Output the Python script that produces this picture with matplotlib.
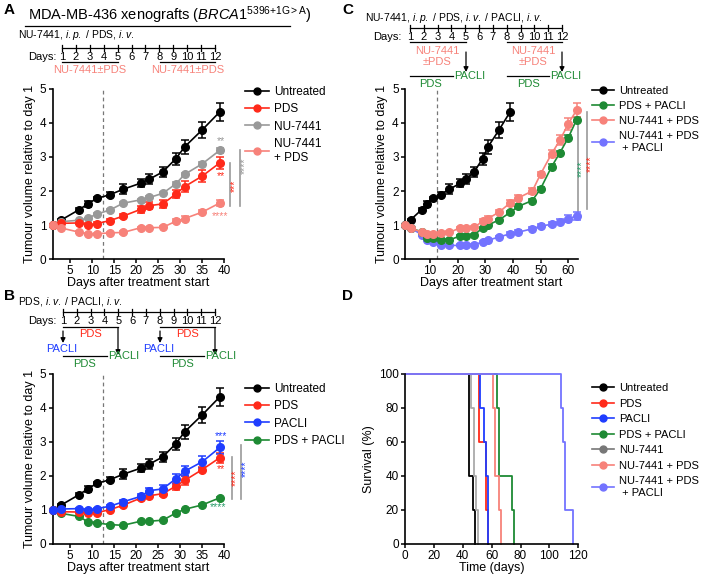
import matplotlib
matplotlib.use('Agg')
import matplotlib.pyplot as plt
from matplotlib.lines import Line2D

plt.rcParams['font.family'] = ['Liberation Sans', 'DejaVu Sans']
plt.rcParams['mathtext.fontset'] = 'custom'
plt.rcParams['mathtext.rm'] = 'Liberation Sans'
plt.rcParams['mathtext.it'] = 'Liberation Sans:italic'
plt.rcParams['font.size'] = 8

# --- colours ---
C_UNT = '#000000'
C_PDS = '#ff2a1a'
C_NU = '#999999'
C_NUPDS = '#f7827a'
C_PACLI = '#1f3dff'
C_PP = '#1e8a34'
C_TRIPLE = '#7373ff'
C_STAR_G = '#2a9d6a'

# --- data: tumour growth (panels A, B, C) ---
days = [1, 3, 7, 9, 11, 14, 17, 21, 23, 26, 29, 31, 35, 39]
days_long = days + [42, 47, 50, 54, 57, 60, 63]

untreated = [1.0, 1.15, 1.45, 1.62, 1.78, 1.89, 2.05, 2.23, 2.35, 2.56, 2.95, 3.3, 3.8, 4.33]
untreated_err = [0, 0.03, 0.04, 0.08, 0.04, 0.07, 0.15, 0.12, 0.14, 0.15, 0.18, 0.2, 0.23, 0.27]

a_pds = [1.0, 1.05, 1.06, 1.01, 1.04, 1.13, 1.26, 1.46, 1.57, 1.62, 1.91, 2.13, 2.44, 2.83]
a_pds_err = [0, 0.04, 0.04, 0.04, 0.04, 0.04, 0.05, 0.1, 0.1, 0.12, 0.13, 0.15, 0.18, 0.18]
a_nu = [1.0, 1.1, 1.14, 1.2, 1.32, 1.44, 1.64, 1.74, 1.81, 1.93, 2.21, 2.49, 2.8, 3.2]
a_nu_err = [0, 0.02, 0.02, 0.02, 0.02, 0.02, 0.03, 0.03, 0.03, 0.03, 0.06, 0.04, 0.04, 0.07]
a_nupds = [1.0, 0.91, 0.79, 0.73, 0.74, 0.77, 0.78, 0.92, 0.92, 0.93, 1.11, 1.19, 1.38, 1.65]
a_nupds_err = [0, 0.03, 0.03, 0.03, 0.03, 0.03, 0.03, 0.03, 0.03, 0.03, 0.06, 0.07, 0.07, 0.08]

b_pds = [1.0, 0.95, 0.94, 0.91, 0.92, 1.01, 1.14, 1.35, 1.42, 1.48, 1.7, 1.87, 2.19, 2.54]
b_pds_err = [0, 0.03, 0.03, 0.03, 0.03, 0.03, 0.05, 0.07, 0.08, 0.08, 0.1, 0.12, 0.08, 0.15]
b_pacli = [1.0, 1.03, 1.04, 1.01, 1.04, 1.11, 1.24, 1.4, 1.57, 1.62, 1.92, 2.14, 2.42, 2.84]
b_pacli_err = [0, 0.03, 0.03, 0.03, 0.03, 0.03, 0.05, 0.08, 0.08, 0.12, 0.15, 0.15, 0.18, 0.18]
b_pp = [1.0, 0.9, 0.81, 0.65, 0.62, 0.57, 0.55, 0.67, 0.67, 0.7, 0.91, 1.02, 1.15, 1.36]
b_pp_err = [0, 0.02, 0.02, 0.02, 0.02, 0.02, 0.02, 0.02, 0.02, 0.02, 0.02, 0.02, 0.02, 0.03]

c_pp = [1.0, 0.91, 0.8, 0.62, 0.62, 0.57, 0.56, 0.68, 0.68, 0.71, 0.91, 1.0, 1.15, 1.37,
        1.55, 1.72, 2.07, 2.72, 3.13, 3.57, 4.1]
c_pp_err = [0, 0.02, 0.03, 0.03, 0.03, 0.03, 0.03, 0.03, 0.03, 0.03, 0.04, 0.04, 0.04, 0.05,
            0.05, 0.05, 0.05, 0.06, 0.06, 0.07, 0.08]
c_nupds = a_nupds + [1.8, 2.0, 2.5, 3.1, 3.5, 3.98, 4.38]
c_nupds_err = a_nupds_err + [0.08, 0.1, 0.07, 0.1, 0.15, 0.18, 0.2]
c_triple = [1.0, 0.91, 0.72, 0.57, 0.5, 0.41, 0.4, 0.4, 0.4, 0.42, 0.5, 0.55, 0.65, 0.74,
            0.79, 0.89, 0.97, 1.02, 1.1, 1.18, 1.27]
c_triple_err = [0, 0.03, 0.04, 0.04, 0.04, 0.03, 0.03, 0.03, 0.03, 0.03, 0.04, 0.04, 0.04, 0.04,
                0.05, 0.05, 0.05, 0.06, 0.08, 0.1, 0.12]

# --- data: survival (panel D) ---
surv_series = [
    ('Untreated', C_UNT, [0, 44.5, 47, 48.5], [100, 40, 20, 0]),
    ('PDS', C_PDS, [0, 51.2, 55.8, 57.7], [100, 60, 20, 0]),
    ('PACLI', C_PACLI, [0, 52, 55, 56.2, 57.5], [100, 80, 60, 40, 0]),
    ('PDS + PACLI', C_PP, [0, 64, 65, 74, 75.5], [100, 80, 40, 20, 0]),
    ('NU-7441', '#aaaaaa', [0, 46, 48, 49.5, 50.5], [100, 80, 40, 20, 0]),
    ('NU-7441 + PDS', C_NUPDS, [0, 61, 62.5, 65, 66.5], [100, 80, 40, 20, 0]),
    ('NU-7441 + PDS\n + PACLI', C_TRIPLE, [0, 108, 109.5, 111, 116.5], [100, 80, 60, 20, 0]),
]
surv_legend_colors = [C_UNT, C_PDS, C_PACLI, C_PP, '#777777', C_NUPDS, C_TRIPLE]

W, H = 705, 575
fig = plt.figure(figsize=(W / 100, H / 100), dpi=100)


def ax_px(left, top, right, bottom):
    return fig.add_axes([left / W, 1 - bottom / H, (right - left) / W, (bottom - top) / H])


def style(ax):
    for s in ['top', 'right']:
        ax.spines[s].set_visible(False)
    for s in ['left', 'bottom']:
        ax.spines[s].set_linewidth(1.2)
    ax.tick_params(length=3, width=1.1, labelsize=8.5, pad=1.5)
    ax.tick_params(axis='x', pad=1)


def growth_plot(ax, series, xmax, xticks):
    for x, y, e, c in series:
        ax.errorbar(x, y, yerr=e, fmt='-o', color=c, ms=5.5, lw=1.2, capsize=3,
                    elinewidth=1.1, capthick=1.1, clip_on=False, zorder=3)
    ax.axvline(12.5, color='#777777', ls='--', lw=0.9, dashes=(3, 2.5), zorder=1)
    ax.set_xlim(1, xmax)
    ax.set_ylim(0, 5)
    ax.set_xticks(xticks)
    ax.set_yticks(range(6))
    ax.set_xlabel('Days after treatment start', fontsize=9, labelpad=0)
    ax.set_ylabel('Tumour volume relative to day 1', fontsize=9, labelpad=3)
    style(ax)


def legend(ax, labels, colors, x, y, fs=8.5, spacing=0.45):
    handles = [Line2D([], [], color=c, marker='o', ms=5, lw=1.2) for c in colors]
    ax.legend(handles, labels, loc='upper left', bbox_to_anchor=(x / W, 1 - y / H),
              bbox_transform=fig.transFigure, frameon=False, fontsize=fs,
              borderpad=0, borderaxespad=0, handlelength=2.0, handletextpad=0.45,
              labelspacing=spacing)


def sig_bar(ax, x, y0, y1):
    ax.plot([x, x], [y0, y1], color='#999999', lw=1.2, clip_on=False)


def stars(ax, x, y, s, c, rot=0):
    ax.text(x, y, s, color=c, fontsize=7.5, ha='center', va='center', rotation=rot,
            clip_on=False)


# ---------------- Panel A ----------------
axA = ax_px(52.6, 89, 224.3, 259)
growth_plot(axA, [(days, untreated, untreated_err, C_UNT),
                  (days, a_nu, a_nu_err, C_NU),
                  (days, a_pds, a_pds_err, C_PDS),
                  (days, a_nupds, a_nupds_err, C_NUPDS)],
            40, range(5, 41, 5))
legend(axA, ['Untreated', 'PDS', 'NU-7441', 'NU-7441\n+ PDS'],
       [C_UNT, C_PDS, C_NU, C_NUPDS], 245, 86)
stars(axA, 39.2, 3.47, '**', C_NU)
stars(axA, 39.2, 2.43, '**', C_PDS)
stars(axA, 39.0, 1.27, '****', C_NUPDS)
sig_bar(axA, 41.4, 1.55, 2.83)
stars(axA, 42.5, 2.15, '***', C_PDS, 90)
sig_bar(axA, 43.5, 1.55, 3.2)
stars(axA, 44.6, 2.75, '****', C_NU, 90)

# ---------------- Panel B ----------------
axB = ax_px(52.6, 374, 224.3, 544)
growth_plot(axB, [(days, untreated, untreated_err, C_UNT),
                  (days, b_pp, b_pp_err, C_PP),
                  (days, b_pds, b_pds_err, C_PDS),
                  (days, b_pacli, b_pacli_err, C_PACLI)],
            40, range(5, 41, 5))
legend(axB, ['Untreated', 'PDS', 'PACLI', 'PDS + PACLI'],
       [C_UNT, C_PDS, C_PACLI, C_PP], 245, 383)
stars(axB, 39.2, 3.17, '***', C_PACLI)
stars(axB, 39.2, 2.2, '**', C_PDS)
stars(axB, 38.6, 1.1, '****', C_STAR_G)
sig_bar(axB, 41.7, 1.33, 2.55)
stars(axB, 42.7, 1.94, '****', C_PDS, 90)
sig_bar(axB, 43.8, 1.33, 2.92)
stars(axB, 44.8, 2.2, '****', C_PACLI, 90)

# ---------------- Panel C ----------------
axC = ax_px(405, 89, 578, 259)
growth_plot(axC, [(days, untreated, untreated_err, C_UNT),
                  (days_long, c_triple, c_triple_err, C_TRIPLE),
                  (days_long, c_pp, c_pp_err, C_PP),
                  (days_long, c_nupds, c_nupds_err, C_NUPDS)],
            63.5, range(10, 61, 10))
legend(axC, ['Untreated', 'PDS + PACLI', 'NU-7441 + PDS', 'NU-7441 + PDS\n + PACLI'],
       [C_UNT, C_PP, C_NUPDS, C_TRIPLE], 592, 86, fs=8)
sig_bar(axC, 63.6, 1.37, 4.0)
stars(axC, 64.9, 2.64, '****', C_STAR_G, 90)
sig_bar(axC, 66.7, 1.47, 4.33)
stars(axC, 68.3, 2.79, '****', C_PDS, 90)

# ---------------- Panel D ----------------
axD = ax_px(405, 374, 578.3, 544)
for name, c, t, s in surv_series:
    axD.step(t, s, where='post', color=c, lw=1.3, clip_on=False)
axD.set_xlim(0, 120)
axD.set_ylim(0, 100)
axD.set_xticks(range(0, 121, 20))
axD.set_yticks(range(0, 101, 20))
axD.set_xlabel('Time (days)', fontsize=9, labelpad=0)
axD.set_ylabel('Survival (%)', fontsize=9, labelpad=3)
style(axD)
legend(axD, [s[0] for s in surv_series], surv_legend_colors, 592, 383, fs=8, spacing=0.5)

# ---------------- overlay: headers and schedules ----------------
ov = fig.add_axes([0, 0, 1, 1])
ov.set_xlim(0, W)
ov.set_ylim(H, 0)
ov.set_axis_off()
ov.patch.set_alpha(0)

for lab, x, y in [('A', 4, 10), ('B', 4, 296), ('C', 342, 10), ('D', 342, 296)]:
    ov.text(x, y, lab, fontsize=11, fontweight='bold', ha='left', va='center')

sched_days = list(range(1, 13))


def timeline(x0, x1, y, label_x):
    step = (x1 - x0) / 11
    ov.plot([x0, x1], [y, y], color='k', lw=0.9)
    for d in sched_days:
        xx = x0 + (d - 1) * step
        ov.plot([xx, xx], [y - 3, y + 3], color='k', lw=0.9)
        ov.text(xx, y + 9, str(d), fontsize=8, ha='center', va='center')
    ov.text(label_x, y + 9, 'Days:', fontsize=8, ha='left', va='center')
    return step


def arrow(x, y0, y1):
    ov.annotate('', xy=(x, y1), xytext=(x, y0),
                arrowprops=dict(arrowstyle='-|>', color='k', lw=0.9,
                                mutation_scale=7, shrinkA=0, shrinkB=0))


# A header
ov.text(28, 15, r'MDA-MB-436 xenografts ($\mathit{BRCA1}^{\mathrm{5396{+}1G{>}A}}$)',
        fontsize=10.5, ha='left', va='center')
ov.plot([25, 290], [26, 26], color='k', lw=0.9)
ov.text(18, 35, r'NU-7441, $\mathit{i.p.}$ / PDS, $\mathit{i.v.}$', fontsize=7.5,
        ha='left', va='center')
timeline(62, 215, 48, 28)
for xa, xb in [(62, 118), (160, 215)]:
    ov.plot([xa, xb], [61.5, 61.5], color='k', lw=0.9)
    ov.text((xa + xb) / 2, 70, 'NU-7441±PDS', color=C_NUPDS, fontsize=8,
            ha='center', va='center')

# B header
ov.text(18, 302, r'PDS, $\mathit{i.v.}$ / PACLI, $\mathit{i.v.}$', fontsize=7.5,
        ha='left', va='center')
timeline(63, 215, 311.5, 28)
for xa, xb in [(63, 118), (160, 215)]:
    ov.plot([xa, xb], [327, 327], color='k', lw=0.9)
    ov.text((xa + xb) / 2, 334, 'PDS', color=C_PDS, fontsize=8, ha='center', va='center')
    arrow(xa, 331, 343)
    arrow(xb, 328, 355)
    ov.text(xa - 1, 349, 'PACLI', color=C_PACLI, fontsize=8, ha='center', va='center')
    ov.plot([xa, xb - 11], [356, 356], color='k', lw=0.9)
    ov.text(xb - 10, 356, 'PACLI', color=C_PP, fontsize=8, ha='left', va='center')
    ov.text(xa + 22, 364, 'PDS', color=C_PP, fontsize=8, ha='center', va='center')

# C header
ov.text(365, 18, r'NU-7441, $\mathit{i.p.}$ / PDS, $\mathit{i.v.}$ / PACLI, $\mathit{i.v.}$',
        fontsize=7.5, ha='left', va='center')
timeline(410, 562, 28, 373)
for xa, xb in [(410, 466), (507, 562)]:
    ov.plot([xa, xb], [42, 42], color='k', lw=0.9)
    ov.text((xa + xb) / 2 - 1, 51, 'NU-7441', color=C_NUPDS, fontsize=8,
            ha='center', va='center')
    ov.text((xa + xb) / 2 - 1, 62, '±PDS', color=C_NUPDS, fontsize=8,
            ha='center', va='center')
    arrow(xb, 52, 72)
    ov.plot([xa, xb - 13], [76, 76], color='k', lw=0.9)
    ov.text(xb - 12, 76, 'PACLI', color=C_PP, fontsize=8, ha='left', va='center')
    ov.text(xa + 21, 84, 'PDS', color=C_PP, fontsize=8, ha='center', va='center')

fig.savefig('out.png', dpi=100)
